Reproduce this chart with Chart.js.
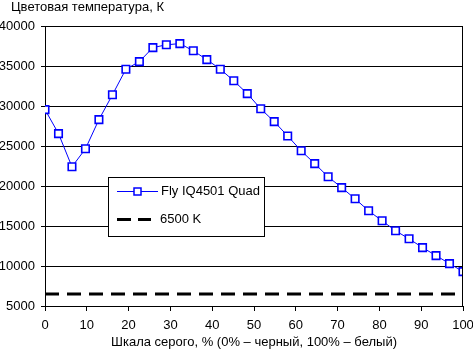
<!DOCTYPE html>
<html>
<head>
<meta charset="utf-8">
<script src="https://cdn.jsdelivr.net/npm/chart.js@4"></script>
<style>
html,body{margin:0;padding:0;background:#fff;}
#wrap{width:473px;height:349px;}
</style>
</head>
<body>
<div id="wrap"><canvas id="c" width="473" height="349"></canvas></div>
<script>
const chartTitle = 'Цветовая температура, К';
const xAxisTitle = 'Шкала серого, % (0% – черный, 100% – белый)';
const seriesName = 'Fly IQ4501 Quad';
const refName = '6500 K';
const grayPercent = [0, 3.23, 6.45, 9.68, 12.9, 16.13, 19.35, 22.58, 25.81, 29.03, 32.26, 35.48, 38.71, 41.94, 45.16, 48.39,
  51.61, 54.84, 58.06, 61.29, 64.52, 67.74, 70.97, 74.19, 77.42, 80.65, 83.87, 87.1, 90.32, 93.55, 96.77, 100];
const colorTemp = [29550, 26550, 22400, 24650, 28300, 31400, 34600, 35550, 37300, 37650, 37800, 36900, 35800, 34600, 33150, 31550,
  29650, 28050, 26250, 24400, 22800, 21150, 19800, 18400, 16900, 15650, 14400, 13400, 12300, 11300, 10300, 9300];
const refX = [0, 100];
const refY = [6500, 6500];
const yTicks = [5000, 10000, 15000, 20000, 25000, 30000, 35000, 40000];
const xTicks = [0, 10, 20, 30, 40, 50, 60, 70, 80, 90, 100];

const FONT = 'Liberation Sans, Arial, sans-serif';

const extras = {
  id: 'extras',
  afterDraw(chart) {
    const ctx = chart.ctx;
    const a = chart.chartArea;
    ctx.save();
    // plot border (right edge)
    ctx.strokeStyle = '#000';
    ctx.lineWidth = 1;
    ctx.beginPath();
    ctx.moveTo(Math.round(a.right) - 0.5, Math.round(a.top));
    ctx.lineTo(Math.round(a.right) - 0.5, Math.round(a.bottom));
    ctx.stroke();
    // title
    ctx.fillStyle = '#000';
    ctx.font = '13px ' + FONT;
    ctx.textBaseline = 'middle';
    ctx.textAlign = 'left';
    ctx.fillText(chartTitle, 11, 7);
    // legend box
    const bx = 108.5, by = 177.5, bw = 156, bh = 59;
    ctx.fillStyle = '#fff';
    ctx.fillRect(bx, by, bw, bh);
    ctx.strokeStyle = '#000';
    ctx.lineWidth = 1;
    ctx.strokeRect(bx, by, bw, bh);
    const ds = chart.data.datasets;
    // series 1 sample
    ctx.strokeStyle = ds[0].borderColor;
    ctx.lineWidth = 1;
    ctx.beginPath();
    ctx.moveTo(117, 191.5);
    ctx.lineTo(158, 191.5);
    ctx.stroke();
    ctx.fillStyle = '#fff';
    ctx.lineWidth = 1.5;
    ctx.fillRect(134, 188, 7, 7);
    ctx.strokeRect(134, 188, 7, 7);
    // series 2 sample
    ctx.strokeStyle = '#000';
    ctx.lineWidth = 3;
    ctx.beginPath();
    ctx.moveTo(117, 219.5);
    ctx.lineTo(131, 219.5);
    ctx.moveTo(138, 219.5);
    ctx.lineTo(151, 219.5);
    ctx.stroke();
    ctx.fillStyle = '#000';
    ctx.font = '13px ' + FONT;
    ctx.textAlign = 'left';
    ctx.textBaseline = 'middle';
    ctx.fillText(ds[0].label, 161, 191);
    ctx.fillText(ds[1].label, 160, 219);
    ctx.restore();
  }
};

new Chart(document.getElementById('c'), {
  type: 'line',
  data: {
    datasets: [
      {
        label: seriesName,
        data: grayPercent.map((x, i) => ({x: x, y: colorTemp[i]})),
        borderColor: '#0000ff',
        borderWidth: 1,
        pointStyle: 'rect',
        pointRadius: 5.3,
        pointBorderWidth: 1.6,
        pointBackgroundColor: '#ffffff',
        pointBorderColor: '#0000ff',
        tension: 0,
        order: 1
      },
      {
        label: refName,
        data: refX.map((x, i) => ({x: x, y: refY[i]})),
        borderColor: '#000000',
        borderWidth: 3,
        borderDash: [14, 8],
        pointRadius: 0,
        order: 2
      }
    ]
  },
  options: {
    responsive: false,
    animation: false,
    layout: {padding: {top: 26, right: 10, left: 0, bottom: 0}},
    plugins: {legend: {display: false}, tooltip: {enabled: false}, title: {display: false}},
    scales: {
      x: {
        type: 'linear',
        min: 0, max: 100,
        afterBuildTicks: s => { s.ticks = xTicks.map(v => ({value: v})); },
        afterFit: s => { s.height = 43; s.paddingLeft = 0; s.paddingRight = 0; },
        grid: {drawOnChartArea: false, drawTicks: true, tickLength: 5, color: '#000'},
        border: {color: '#000'},
        ticks: {color: '#000', font: {family: FONT, size: 13}, padding: 7, maxRotation: 0},
        title: {display: true, text: xAxisTitle, color: '#000', font: {family: FONT, size: 13}, padding: {top: 0, bottom: -1}}
      },
      y: {
        min: 5000, max: 40000,
        afterBuildTicks: s => { s.ticks = yTicks.map(v => ({value: v})); },
        afterFit: s => { s.width = 45; s.paddingTop = 0; s.paddingBottom = 0; },
        grid: {color: '#000', tickLength: 4, drawTicks: true},
        border: {color: '#000'},
        ticks: {color: '#000', font: {family: FONT, size: 13}, padding: 6, callback: v => String(v)}
      }
    }
  },
  plugins: [extras]
});
</script>
</body>
</html>
